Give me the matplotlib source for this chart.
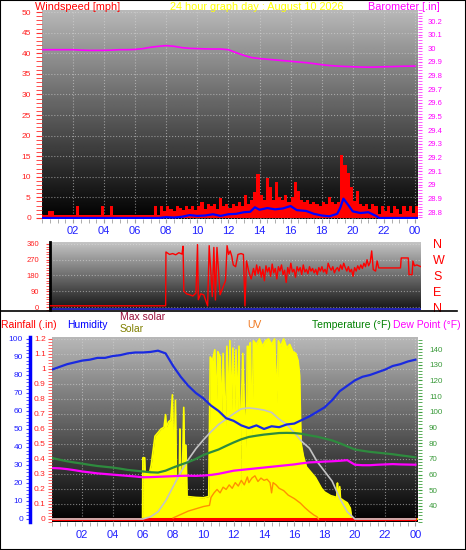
import numpy as np
import matplotlib
matplotlib.use("Agg")
import matplotlib.pyplot as plt
from matplotlib.ticker import MultipleLocator
from matplotlib.lines import Line2D
from matplotlib.patches import Rectangle

plt.rcParams['font.family'] = ['Liberation Sans', 'DejaVu Sans']

# ---------------- data (hours after midnight) ----------------
half_hours = [i * 0.5 for i in range(49)]

barometer = [29.99, 29.99, 29.99, 29.99, 29.99, 29.987, 29.985, 29.985, 29.985, 29.987,
             29.99, 29.99, 29.992, 29.998, 30.008, 30.015, 30.02, 30.015, 30.005, 30.0,
             29.998, 29.996, 29.995, 29.995, 29.99, 29.968, 29.948, 29.932, 29.925, 29.92,
             29.915, 29.91, 29.905, 29.9, 29.895, 29.888, 29.88, 29.874, 29.87, 29.867,
             29.865, 29.863, 29.862, 29.863, 29.865, 29.866, 29.868, 29.869, 29.87]

gust_hours = [round(i * 0.2, 1) for i in range(122)]
gust = [0.6, 0.6, 1.6, 1.6, 0.6, 0.6, 0.6, 0.6, 0.6, 0.6,
        0.6, 2.8, 0.6, 0.6, 0.6, 0.6, 0.6, 0.6, 0.6, 2.8,
        0.6, 0.6, 2.8, 0.6, 0.6, 0.6, 0.6, 0.6, 0.6, 0.6,
        0.6, 0.6, 0.6, 0.6, 0.6, 0.6, 2.8, 0.6, 2.8, 1.8,
        2.8, 2.2, 1.8, 2.8, 2.5, 1.9, 2.8, 2.2, 2.8, 2.0,
        2.8, 3.8, 2.2, 3.3, 2.8, 3.3, 2.2, 4.8, 2.8, 3.3,
        2.4, 3.3, 2.8, 3.8, 2.8, 5.5, 3.3, 4.4, 6.4, 10.7,
        5.5, 4.4, 9.7, 7.5, 4.4, 8.7, 5.0, 4.4, 5.5, 3.8,
        5.0, 8.7, 6.5, 4.4, 3.8, 4.4, 3.3, 3.8, 3.3, 2.8,
        3.8, 3.3, 5.0, 3.8, 3.3, 3.8, 15.3, 12.8, 10.8, 7.4,
        4.0, 6.5, 3.3, 2.8, 3.3, 2.2, 3.3, 2.8, 1.0, 2.8,
        1.6, 2.8, 1.2, 2.8, 2.2, 1.0, 2.8, 1.6, 2.8, 1.2,
        2.8, 1.6]

avg_hours = [0, 7.5, 8, 8.5, 9, 9.5, 10, 10.5, 11, 11.5,
             12, 12.5, 13, 13.4, 13.7, 14, 14.5, 15, 15.5, 16,
             16.4, 17, 17.5, 18, 18.5, 19, 19.2, 19.4, 19.7, 20,
             20.5, 21, 21.5, 21.7, 24.2]
avg_speed = [0, 0, 0.2, 0.1, 0.3, 0.7, 0.5, 0.6, 0.9, 0.5,
             0.9, 1.0, 1.4, 1.5, 2.6, 2.0, 2.4, 2.1, 2.3, 2.9,
             1.9, 1.7, 1.0, 0.6, 0.4, 1.0, 2.5, 4.7, 3.2, 1.6,
             1.2, 1.4, 0.5, 0, 0]

dir_hours_a = [0.0, 7.95, 7.97, 8.2, 8.4, 8.6, 8.8, 9.0, 9.07, 9.12,
               9.3, 9.5, 9.7, 9.9, 10.0, 10.05, 10.2, 10.4, 10.65, 10.75,
               10.95, 11.05, 11.15, 11.25, 11.45, 11.8, 11.9, 12.0, 12.1, 12.2,
               12.3, 12.45, 12.6, 12.8, 12.95, 13.05, 13.15, 13.3, 13.45, 13.6, 13.7]
dir_deg_a = [7, 7, 314, 300, 305, 298, 310, 302, 347, 91,
             75, 70, 63, 80, 356, 42, 75, 70, 6, 350,
             60, 340, 40, 340, 70, 150, 350, 300, 320, 290,
             240, 230, 300, 305, 300, 6, 263, 200, 160, 220, 180]
dir_hours_b = [round(13.8 + 0.1 * i, 1) for i in range(73)]
dir_deg_b = [240, 190, 230, 170, 215, 150, 235, 200, 225, 175,
             245, 195, 220, 160, 230, 205, 240, 185, 210, 140,
             225, 190, 250, 200, 215, 170, 230, 205, 225, 185,
             240, 200, 215, 190, 230, 205, 220, 195, 215, 185,
             225, 205, 230, 200, 215, 190, 250, 225, 210, 230,
             195, 215, 225, 205, 240, 215, 250, 225, 205, 230,
             200, 215, 175, 225, 205, 235, 215, 240, 220, 250,
             230, 270, 235]
dir_hours_c = [21.1, 21.2, 21.3, 21.45, 21.55, 21.65, 23.05, 23.1, 23.55, 23.6,
               23.8, 23.85, 23.95, 24.1, 24.37]
dir_deg_c = [255, 320, 214, 205, 263, 223, 223, 280, 280, 185,
             185, 263, 235, 240, 230]
dir_hours = dir_hours_a + dir_hours_b + dir_hours_c
dir_deg = dir_deg_a + dir_deg_b + dir_deg_c

rainfall = [0.0, 0.0, 0.0, 0.0, 0.0, 0.0, 0.0, 0.0, 0.0, 0.0,
            0.0, 0.0, 0.0, 0.0, 0.0, 0.0, 0.0, 0.0, 0.0, 0.0,
            0.0, 0.0, 0.0, 0.0, 0.0, 0.0, 0.0, 0.0, 0.0, 0.0,
            0.0, 0.0, 0.0, 0.0, 0.0, 0.0, 0.0, 0.0, 0.0, 0.0,
            0.0, 0.0, 0.0, 0.0, 0.0, 0.0, 0.0, 0.0, 0.0]

humidity = [83, 84.5, 86, 87, 88, 88.5, 89.5, 89.5, 90.5, 91,
            92, 92.5, 92.5, 92.8, 93.5, 92, 85, 79, 74, 70,
            67, 63, 60, 56, 54.5, 52, 50.5, 52, 50, 51.5,
            51, 52.5, 53, 55, 57, 59.5, 62, 66, 71, 74,
            77, 79, 80, 81.5, 83, 85, 86, 87.5, 88.5]

temperature = [70.6, 69.5, 68.5, 67.7, 67, 66.2, 65.5, 65, 64.5, 63.8,
               63, 62.5, 62, 61.5, 61.3, 62.5, 64.5, 66.3, 68, 70,
               72.5, 74.3, 76, 78.3, 80.5, 82.5, 84, 84.8, 85.5, 86,
               86.5, 86.6, 86.5, 86, 85, 84.2, 83, 81.8, 80, 78,
               76, 75.2, 74.5, 74, 73.5, 73, 72.3, 71.7, 71]

dew_point = [64.2, 64, 63.5, 62.8, 62, 61.4, 60.8, 60.4, 60, 59.6,
             59.2, 58.8, 58.3, 58.4, 58.6, 58.8, 59, 59.2, 59.3, 59.2,
             59.4, 59.8, 60.5, 61.5, 62.5, 63, 63.5, 64, 64.5, 65,
             65.5, 66, 66.5, 67.2, 67.8, 68, 68.3, 68.5, 68.8, 69.2,
             66.3, 66, 66, 66.3, 66.5, 66.7, 66.5, 66.4, 66.3]

max_solar = [0, 0, 0, 0, 0, 0, 0, 0, 0, 0,
             0, 0, 0, 12, 40, 100, 180, 260, 330, 390,
             440, 485, 525, 555, 585, 612, 617, 612, 605, 592,
             555, 525, 480, 430, 393, 320, 265, 210, 115, 40,
             0, 0, 0, 0, 0, 0, 0, 0, 0]

solar_hours = [0, 5.98, 6.0, 6.12, 6.15, 6.45, 6.55, 6.8, 7.0, 7.2,
               7.4, 7.5, 7.55, 7.7, 7.85, 7.95, 8.05, 8.15, 8.22, 8.4,
               8.45, 8.5, 8.6, 8.7, 8.78, 8.85, 8.92, 9.5, 10.0, 10.35,
               10.45, 10.6, 10.75, 10.85, 10.95, 11.1, 11.2, 11.3, 11.45, 11.55,
               11.7, 11.75, 11.85, 11.95, 12.05, 12.15, 12.25, 12.35, 12.45, 12.5,
               12.6, 12.7, 12.8, 12.9, 13.0, 13.1, 13.2, 13.3, 13.5, 13.7,
               13.9, 14.1, 14.3, 14.5, 14.7, 14.85, 14.95, 15.1, 15.3, 15.5,
               15.7, 15.9, 16.1, 16.25, 16.35, 16.45, 16.6, 16.8, 17.0, 17.2,
               17.4, 17.6, 17.8, 18.0, 18.2, 18.4, 18.6, 18.8, 18.85, 18.9,
               19.0, 19.05, 19.3, 19.5, 19.7, 19.8, 24.17]
solar = [0, 0, 340, 340, 260, 260, 300, 460, 480, 500,
         510, 580, 510, 540, 550, 690, 250, 660, 240, 230,
         500, 230, 200, 620, 180, 410, 125, 120, 118, 125,
         900, 880, 940, 620, 930, 900, 560, 920, 480, 960,
         600, 990, 590, 950, 600, 940, 590, 960, 160, 600,
         920, 620, 400, 960, 950, 980, 450, 990, 970, 1000,
         960, 990, 1000, 970, 1000, 650, 990, 960, 1000, 950,
         970, 930, 920, 880, 800, 420, 350, 290, 270, 250,
         230, 200, 170, 150, 140, 130, 125, 120, 200, 110,
         180, 115, 100, 90, 60, 0, 0]

uv_hours = [8.0, 8.5, 9.0, 9.5, 10.0, 10.4, 10.5, 10.7, 10.9, 11.1,
            11.3, 11.5, 11.7, 11.9, 12.1, 12.3, 12.5, 12.7, 12.9, 13.0,
            13.2, 13.4, 13.6, 13.8, 14.0, 14.2, 14.4, 14.5, 14.6, 14.8,
            15.0, 15.3, 15.6, 16.0, 16.4, 16.7, 17.0, 17.3, 17.5, 17.6]
uv = [0.1, 0.4, 0.7, 0.9, 1.1, 1.2, 1.9, 2.3, 2.6, 2.3,
      2.8, 2.6, 3.0, 2.7, 3.2, 2.9, 3.4, 3.0, 3.7, 3.2,
      3.6, 3.8, 3.3, 3.6, 3.4, 3.5, 3.2, 2.3, 3.2, 3.0,
      2.7, 2.5, 2.1, 1.8, 1.4, 1.0, 0.65, 0.35, 0.2, 0.0]

hour_ticks = [2, 4, 6, 8, 10, 12, 14, 16, 18, 20, 22, 24]
hour_labels = ['02', '04', '06', '08', '10', '12', '14', '16', '18', '20', '22', '00']

# ---------------- layout helpers ----------------
W, H = 466, 550
PT = 0.72  # points per pixel at dpi 100


def box(x0, y0, x1, y1):
    return [x0 / W, 1 - y1 / H, (x1 - x0) / W, (y1 - y0) / H]


def shade(ax, top, bottom):
    g = np.linspace(bottom, top, 200).reshape(-1, 1)
    ax.imshow(g, cmap='gray', vmin=0, vmax=1, origin='lower', aspect='auto',
              extent=[0, 1, 0, 1], transform=ax.transAxes, zorder=0)


def clean(ax):
    for s in ax.spines.values():
        s.set_visible(False)


def fmt(v):
    return ('%.1f' % v).rstrip('0').rstrip('.')


fig = plt.figure(figsize=(W / 100, H / 100), dpi=100)
fig.patch.set_facecolor('white')

# ---------------- wind speed / barometer ----------------
ax_w = fig.add_axes(box(42, 10, 418, 219))
shade(ax_w, 0.72, 0.0)
ax_w.fill_between(gust_hours, 0, gust, step='post', color='#ff0000', lw=0, zorder=2)
ax_w.plot(avg_hours, avg_speed, color='#0000ff', lw=1.6, zorder=3)
ax_w.set_xlim(0, 24.2)
ax_w.set_ylim(-0.25, 50.5)
ax_w.set_yticks(range(0, 51, 5))
ax_w.yaxis.set_minor_locator(MultipleLocator(1))
ax_w.set_xticks(hour_ticks)
ax_w.set_xticklabels(hour_labels)
ax_w.xaxis.set_minor_locator(MultipleLocator(0.5))
ax_w.tick_params(axis='x', which='both', color='#a0a0a0', length=3,
                 labelcolor='#2020ff', labelsize=8, pad=2)
ax_w.tick_params(axis='y', which='both', color='#ff3030', length=4,
                 labelcolor='#ff2020', labelsize=6, pad=4)
ax_w.grid(True, which='major', color='#d8d8d8', ls=':', lw=0.8, alpha=0.55)
clean(ax_w)

ax_b = ax_w.twinx()
ax_b.plot(half_hours, barometer, color='#ff00ff', lw=1.2)
ax_b.set_ylim(28.749, 30.281)
baro_ticks = [28.8 + 0.1 * i for i in range(15)]
ax_b.set_yticks(baro_ticks)
ax_b.set_yticklabels([fmt(t) for t in baro_ticks])
ax_b.yaxis.set_minor_locator(MultipleLocator(0.02))
ax_b.tick_params(axis='y', which='both', color='#ff40ff', length=3,
                 labelcolor='#ff00ff', labelsize=5.5, pad=4)
clean(ax_b)

# ---------------- wind direction ----------------
ax_d = fig.add_axes(box(50, 242, 421, 310))
shade(ax_d, 0.78, 0.08)
ax_d.axhline(-9, color='#2828d0', lw=1.2, zorder=2)
ax_d.plot(dir_hours, dir_deg, color='#ff0000', lw=1.0, zorder=3)
ax_d.set_xlim(0.514, 24.37)
ax_d.set_ylim(-17, 371)
ax_d.set_xticks([])
ax_d.set_yticks([0, 90, 180, 270, 360])
ax_d.yaxis.set_minor_locator(MultipleLocator(15))
ax_d.tick_params(axis='y', which='both', color='#ff4040', length=3,
                 labelcolor='#ff2020', labelsize=5.5, pad=5)
ax_d.grid(True, axis='y', color='#e0e0e0', ls=':', lw=0.8, alpha=0.5)
clean(ax_d)
ax_d.spines['left'].set_visible(True)
ax_d.spines['left'].set_linewidth(2)
ax_d.spines['left'].set_color('black')

ax_dr = ax_d.twinx()
ax_dr.set_ylim(-17, 371)
ax_dr.set_yticks([0, 90, 180, 270, 360])
ax_dr.set_yticklabels(['N', 'E', 'S', 'W', 'N'])
ax_dr.tick_params(axis='y', length=0, labelcolor='#ff0000', labelsize=9, pad=12 * PT)
clean(ax_dr)

# ---------------- bottom panel ----------------
ax_s = fig.add_axes(box(52, 337, 418, 522))
shade(ax_s, 0.72, 0.0)
ax_s.fill_between(solar_hours, 0, solar, color='#ffff00', lw=0, zorder=2)
ax_s.plot(solar_hours, solar, color='#ffff00', lw=1.2, zorder=2)
ax_s.set_xlim(0, 24.17)
ax_s.set_ylim(-16.7, 1011)
ax_s.set_yticks([i * 1000 / 12 for i in range(13)])
ax_s.tick_params(axis='y', length=0, labelleft=False, labelright=False)
ax_s.set_xticks(hour_ticks)
ax_s.set_xticklabels(hour_labels)
ax_s.xaxis.set_minor_locator(MultipleLocator(0.5))
ax_s.tick_params(axis='x', which='both', color='#a0a0a0', length=3,
                 labelcolor='#2020ff', labelsize=8, pad=3)
ax_s.grid(True, which='major', color='#d8d8d8', ls=':', lw=0.8, alpha=0.55)
clean(ax_s)

ax_r = ax_s.twinx()
ax_r.plot(half_hours, rainfall, color='#ff0000', lw=2.2)
ax_r.set_ylim(-0.02, 1.213)
rain_ticks = [0.1 * i for i in range(13)]
ax_r.yaxis.set_ticks_position('left')
ax_r.set_yticks(rain_ticks)
ax_r.set_yticklabels([fmt(t) for t in rain_ticks])
ax_r.yaxis.set_minor_locator(MultipleLocator(0.02))
ax_r.tick_params(axis='y', which='both', color='#ff5050', length=3,
                 labelcolor='#ff2020', labelsize=6, pad=1.5)
clean(ax_r)

ax_m = ax_s.twinx()
ax_m.plot(half_hours, max_solar, color='#c4c4c4', lw=1.2)
ax_m.set_ylim(-16.7, 1011)
ax_m.yaxis.set_visible(False)
clean(ax_m)

ax_u = ax_s.twinx()
ax_u.plot(uv_hours, uv, color='#ff9000', lw=1)
ax_u.set_ylim(-0.26, 16)
ax_u.yaxis.set_visible(False)
clean(ax_u)

ax_t = ax_s.twinx()
ax_t.plot(half_hours, temperature, color='#2e8b3e', lw=1.6)
ax_t.plot(half_hours, dew_point, color='#ff00ff', lw=1.6)
ax_t.set_ylim(29.8, 147.7)
ax_t.set_yticks(range(40, 141, 10))
ax_t.yaxis.set_minor_locator(MultipleLocator(2))
ax_t.tick_params(axis='y', which='both', color='#40a040', length=3,
                 labelcolor='#3a9a3a', labelsize=5.8, pad=5)
clean(ax_t)

ax_h = ax_s.twinx()
ax_h.plot(half_hours, humidity, color='#1a2ae0', lw=1.6)
ax_h.set_ylim(-1.67, 101.1)
clean(ax_h)
ax_h.yaxis.set_ticks_position('left')
ax_h.spines['left'].set_visible(True)
ax_h.spines['left'].set_position(('outward', 22 * PT))
ax_h.spines['left'].set_color('#0000ff')
ax_h.spines['left'].set_linewidth(2.5)
ax_h.set_yticks(range(0, 101, 10))
ax_h.yaxis.set_minor_locator(MultipleLocator(2))
ax_h.tick_params(axis='y', which='both', color='#4040ff', length=3,
                 labelcolor='#2020ff', labelsize=6, pad=2)

# ---------------- headings ----------------
fs = 7.8
fig.text(35 / W, 1 - 9.5 / H, 'Windspeed [mph]', color='#ff0000', fontsize=fs, va='baseline')
fig.text(257 / W, 1 - 9.5 / H, '24 hour graph day : August 10 2026', color='#ffff00',
         fontsize=fs, va='baseline', ha='center')
fig.text(440 / W, 1 - 9.5 / H, 'Barometer [.in]', color='#ff00ff', fontsize=fs,
         va='baseline', ha='right')

fs2 = 7.5
yb = 1 - 328.5 / H
fig.text(1 / W, yb, 'Rainfall (.in)', color='#ff0000', fontsize=fs2, va='baseline')
fig.text(67 / W, yb, 'Humidity', color='#0000ff', fontsize=fs2, va='baseline')
fig.text(120 / W, 1 - 320 / H, 'Max solar', color='#99103c', fontsize=fs2, va='baseline')
fig.text(120 / W, 1 - 332 / H, 'Solar', color='#808000', fontsize=fs2, va='baseline')
fig.text(247 / W, yb, 'UV', color='#f07820', fontsize=fs2, va='baseline')
fig.text(312 / W, yb, 'Temperature (°F)', color='#008000', fontsize=fs2, va='baseline')
fig.text(393 / W, yb, 'Dew Point (°F)', color='#ff00ff', fontsize=fs2, va='baseline')

fig.add_artist(Line2D([0, 457 / W], [1 - 311 / H, 1 - 311 / H], color='black', lw=1.2))
fig.add_artist(Rectangle((0, 0), 1, 1, transform=fig.transFigure, fill=False,
                         ec='black', lw=1.5))

plt.savefig('out.png', dpi=100)
